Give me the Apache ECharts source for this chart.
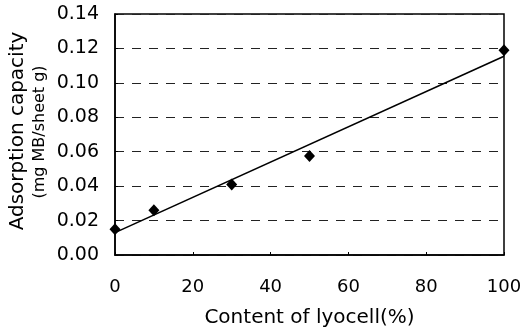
<!DOCTYPE html>
<html><head><meta charset="utf-8">
<script src="https://cdn.jsdelivr.net/npm/echarts@6/dist/echarts.min.js"></script>
<style>html,body{margin:0;padding:0;background:#fff}#c{width:523px;height:331px}</style>
</head><body><div id="c"></div>
<script>
const contentPct = [0, 10, 30, 50, 100];
const adsorption = [0.015, 0.026, 0.041, 0.0575, 0.119];
const trendX = [0, 100];
const trendY = [0.013, 0.1155];
const xTicks = [0, 20, 40, 60, 80, 100];
const yTicks = ['0.00','0.02','0.04','0.06','0.08','0.10','0.12','0.14'];

const FONT = 'DejaVu Sans';
const chart = echarts.init(document.getElementById('c'), null, {renderer:'canvas'});
chart.setOption({
  animation:false,
  backgroundColor:'#fff',
  grid:{left:115,right:19,top:14,bottom:76,show:true,borderColor:'#000',borderWidth:1.5,backgroundColor:'transparent',
    containLabel:false,outerBoundsMode:'none'},
  xAxis:{type:'value',min:0,max:100,interval:20,
    axisLine:{lineStyle:{color:'#000',width:1.5}},
    axisTick:{inside:true,length:3,lineStyle:{color:'#000'}},
    axisLabel:{color:'#000',fontFamily:FONT,fontSize:18,margin:23,
      formatter:v=>xTicks.includes(v)?String(v):''},
    splitLine:{show:false},
    name:'Content of lyocell(%)',nameLocation:'middle',nameGap:53,
    nameTextStyle:{color:'#000',fontFamily:FONT,fontSize:20}
  },
  yAxis:{type:'value',min:0,max:0.14,interval:0.02,
    axisLine:{show:true,lineStyle:{color:'#000',width:1.5}},
    axisTick:{show:true,inside:true,length:3,lineStyle:{color:'#000'}},
    axisLabel:{color:'#000',fontFamily:FONT,fontSize:19,margin:16,
      formatter:v=>yTicks[Math.round(v/0.02)]},
    splitLine:{show:true,lineStyle:{color:'#222',width:1,type:[9,8]}}
  },
  graphic:[
    {type:'text',x:18,y:131,rotation:Math.PI/2,
      style:{text:'Adsorption capacity',fill:'#000',font:'20px "DejaVu Sans"',align:'center',verticalAlign:'middle'}},
    {type:'text',x:40,y:132,rotation:Math.PI/2,
      style:{text:'(mg MB/sheet g)',fill:'#000',font:'16px "DejaVu Sans"',align:'center',verticalAlign:'middle'}}
  ],
  series:[
    {type:'line',data:trendX.map((x,i)=>[x,trendY[i]]),symbol:'none',
      lineStyle:{color:'#000',width:1.6},z:2},
    {type:'scatter',data:contentPct.map((x,i)=>[x,adsorption[i]]),symbol:'diamond',symbolSize:[11,12],
      itemStyle:{color:'#000',opacity:1},z:3}
  ]
});
</script></body></html>
